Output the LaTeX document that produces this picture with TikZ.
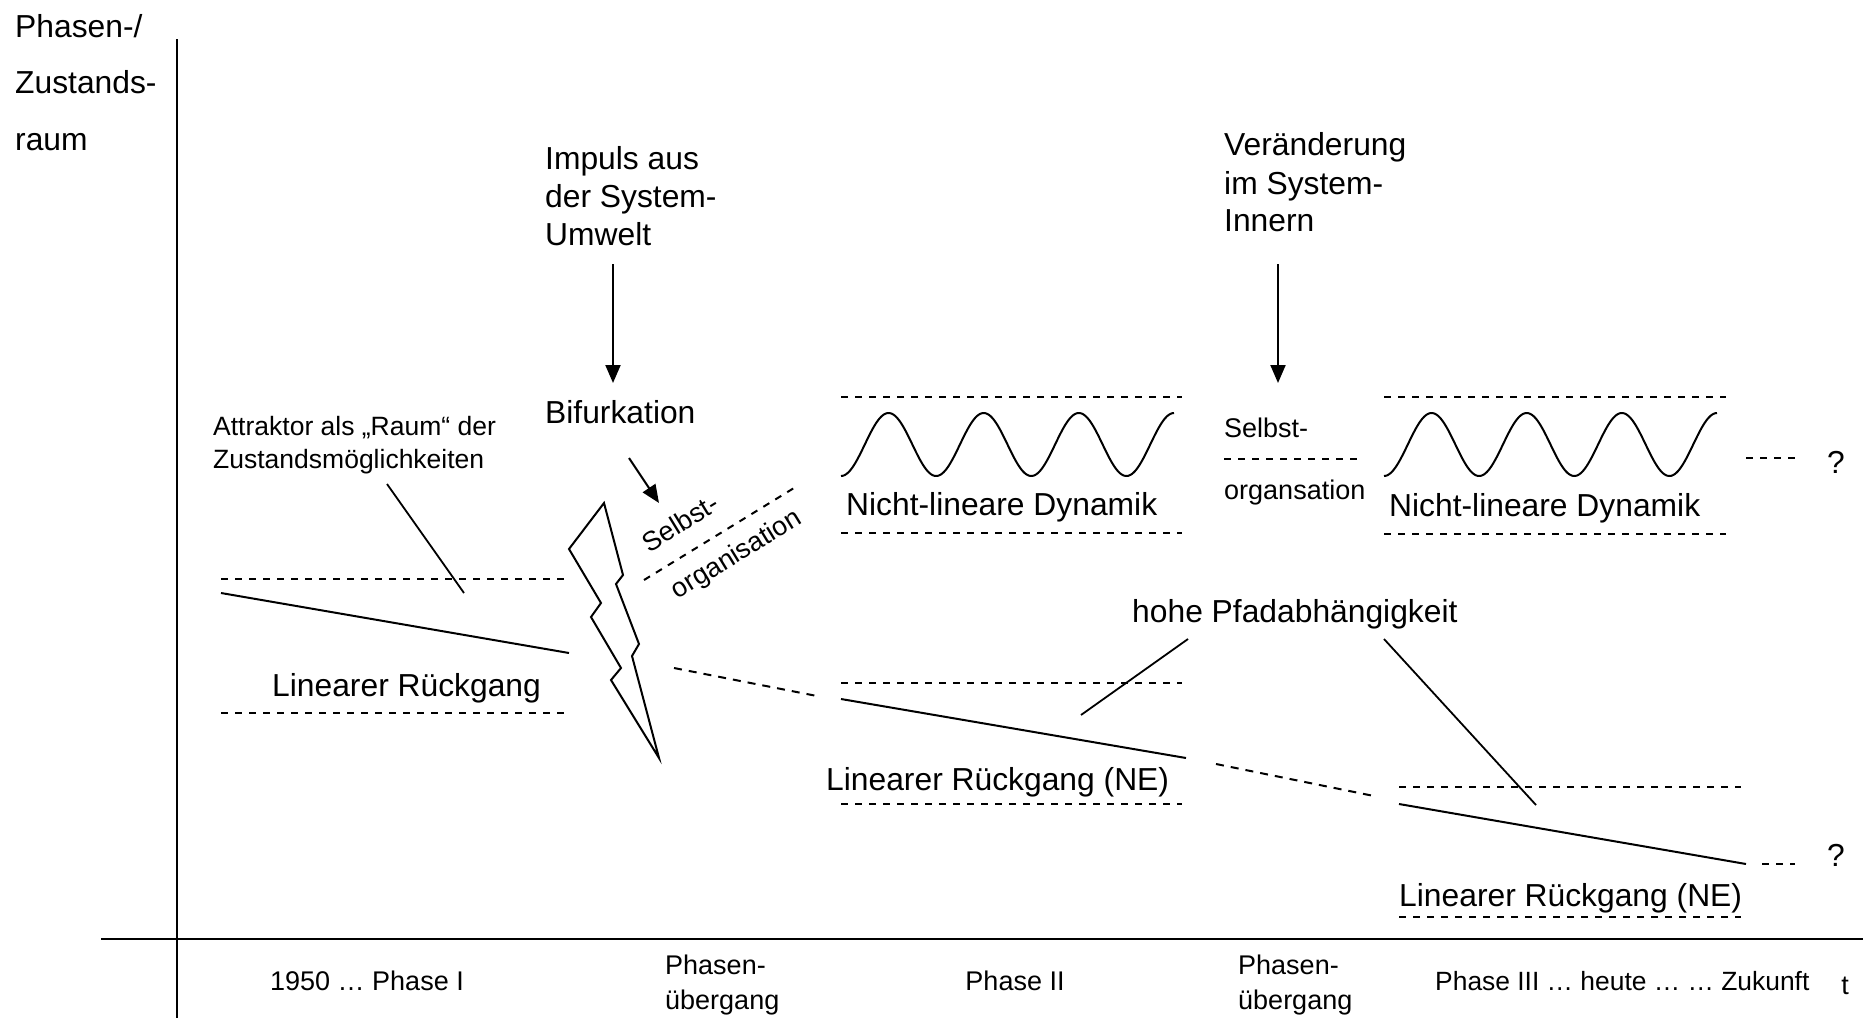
\documentclass[tikz,border=0pt]{standalone}
\usepackage{fontspec}
\setmainfont{Liberation Sans}
\usetikzlibrary{arrows.meta}

\begin{document}
\begin{tikzpicture}[x=1pt,y=-1pt,
  big/.style={inner sep=0pt, anchor=base west, font=\fontsize{31.8}{37}\selectfont},
  small/.style={inner sep=0pt, anchor=base west, font=\fontsize{27}{32}\selectfont},
  band/.style={line width=2pt, dash pattern=on 7pt off 7pt},
  trend/.style={line width=2pt},
  trendgap/.style={line width=2pt, dash pattern=on 8pt off 7pt},
  pointer/.style={line width=1.8pt},
  axis/.style={line width=2.2pt},
  impulse/.style={line width=2pt, -{Triangle[length=18pt,width=15pt]}},
  bolt/.style={line width=2pt, line join=miter},
]
\useasboundingbox (0,0) rectangle (1863,1018);

% axes
\coordinate (yTop) at (177,39);
\coordinate (yBot) at (177,1018);
\coordinate (xLeft) at (101,939);
\coordinate (xRight) at (1863,939);
\draw[axis] (yTop) -- (yBot);
\draw[axis] (xLeft) -- (xRight);

% vertical axis label
\node[big] (ylab1) at (15,37) {Phasen-/};
\node[big] (ylab2) at (15,93) {Zustands-};
\node[big] (ylab3) at (15,150) {raum};

% impulses from outside and inside
\node[big] (imp1) at (545,169) {Impuls aus};
\node[big] (imp2) at (545,207) {der System-};
\node[big] (imp3) at (545,245) {Umwelt};
\node[big] (bif) at (545,423) {Bifurkation};
\coordinate (impS) at (613,264);
\coordinate (impE) at (613,383);
\draw[impulse] (impS) -- (impE);

\node[big] (ver1) at (1224,155) {Veränderung};
\node[big] (ver2) at (1224,194) {im System-};
\node[big] (ver3) at (1224,231) {Innern};
\coordinate (verS) at (1278,264);
\coordinate (verE) at (1278,383);
\draw[impulse] (verS) -- (verE);

% phase I
\node[small, font=\fontsize{26.5}{32}\selectfont] (att1) at (213,435) {Attraktor als „Raum“ der};
\node[small, font=\fontsize{26.5}{32}\selectfont] (att2) at (213,468) {Zustandsmöglichkeiten};
\coordinate (attS) at (387,484);
\coordinate (attE) at (464,593);
\draw[pointer] (attS) -- (attE);
\draw[band] (221,579) -- (565,579);
\draw[band] (221,713) -- (565,713);
\draw[trend] (221,593) -- (569,653);
\node[big] (lin1) at (272,696) {Linearer Rückgang};

% bifurcation bolt
\draw[bolt] (604,503) -- (569,549) -- (601,603) -- (591,617) -- (621,668)
  -- (611,680) -- (659,758) -- (632,656) -- (639,644) -- (616,584)
  -- (623,575) -- cycle;

% self-organisation after the bifurcation
\coordinate (bsS) at (629,458);
\coordinate (bsE) at (659,503);
\draw[impulse] (bsS) -- (bsE);
\draw[band] (644,580) -- (794,488);
\node[small, anchor=center, rotate=31.5] (selbA) at (680,523) {Selbst-};
\node[small, anchor=center, rotate=31.5] (orgA) at (737,555) {organisation};

% phase II, non-linear dynamics
\draw[band] (841,397) -- (1182,397);
\draw[band] (841,533) -- (1182,533);
\draw[trend] plot[domain=-90:1170, samples=241, smooth]
  ({841+(\x+90)/1260*333}, {444.5-31.5*sin(\x)});
\node[big] (nld1) at (846,515) {Nicht-lineare Dynamik};

% self-organisation between phases
\node[small] (selbB) at (1224,437) {Selbst-};
\draw[band] (1224,459) -- (1364,459);
\node[small] (orgB) at (1224,499) {organsation};

% phase III, non-linear dynamics
\draw[band] (1384,397) -- (1726,397);
\draw[band] (1384,534) -- (1726,534);
\draw[trend] plot[domain=-90:1170, samples=241, smooth]
  ({1384+(\x+90)/1260*333}, {444.5-31.5*sin(\x)});
\node[big] (nld2) at (1389,516) {Nicht-lineare Dynamik};
\node[big] (q1) at (1827,473) {?};
\coordinate (q1S) at (1746,458);
\coordinate (q1E) at (1795,458);
\draw[band] (q1S) -- (q1E);

% phase II, linear decline
\draw[trendgap] (674,668) -- (817,696);
\draw[band] (841,683) -- (1182,683);
\draw[band] (841,804) -- (1182,804);
\draw[trend] (841,699) -- (1186,758);
\node[big] (lin2) at (826,790) {Linearer Rückgang (NE)};

% path dependence
\node[big] (pfad) at (1132,622) {hohe Pfadabhängigkeit};
\coordinate (pfS1) at (1188,639);
\coordinate (pfE1) at (1081,715);
\coordinate (pfS2) at (1384,639);
\coordinate (pfE2) at (1536,805);
\draw[pointer] (pfS1) -- (pfE1);
\draw[pointer] (pfS2) -- (pfE2);

% phase III, linear decline
\draw[trendgap] (1216,764) -- (1374,796);
\draw[band] (1399,787) -- (1741,787);
\draw[band] (1399,917) -- (1741,917);
\draw[trend] (1399,804) -- (1746,864);
\node[big] (lin3) at (1399,906) {Linearer Rückgang (NE)};
\node[big] (q2) at (1827,866) {?};
\coordinate (q2S) at (1762,864);
\coordinate (q2E) at (1795,864);
\draw[band] (q2S) -- (q2E);

% time axis labels
\node[small, anchor=base] (t1) at (367,990) {1950 … Phase I};
\node[small] (t2a) at (665,974) {Phasen-};
\node[small] (t2b) at (665,1009) {übergang};
\node[small, anchor=base] (t3) at (1015,990) {Phase II};
\node[small] (t4a) at (1238,974) {Phasen-};
\node[small] (t4b) at (1238,1009) {übergang};
\node[small, font=\fontsize{26.4}{32}\selectfont] (t5) at (1435,990) {Phase III … heute … … Zukunft};
\node[small, anchor=base] (tt) at (1845,994) {t};
\end{tikzpicture}
\end{document}
